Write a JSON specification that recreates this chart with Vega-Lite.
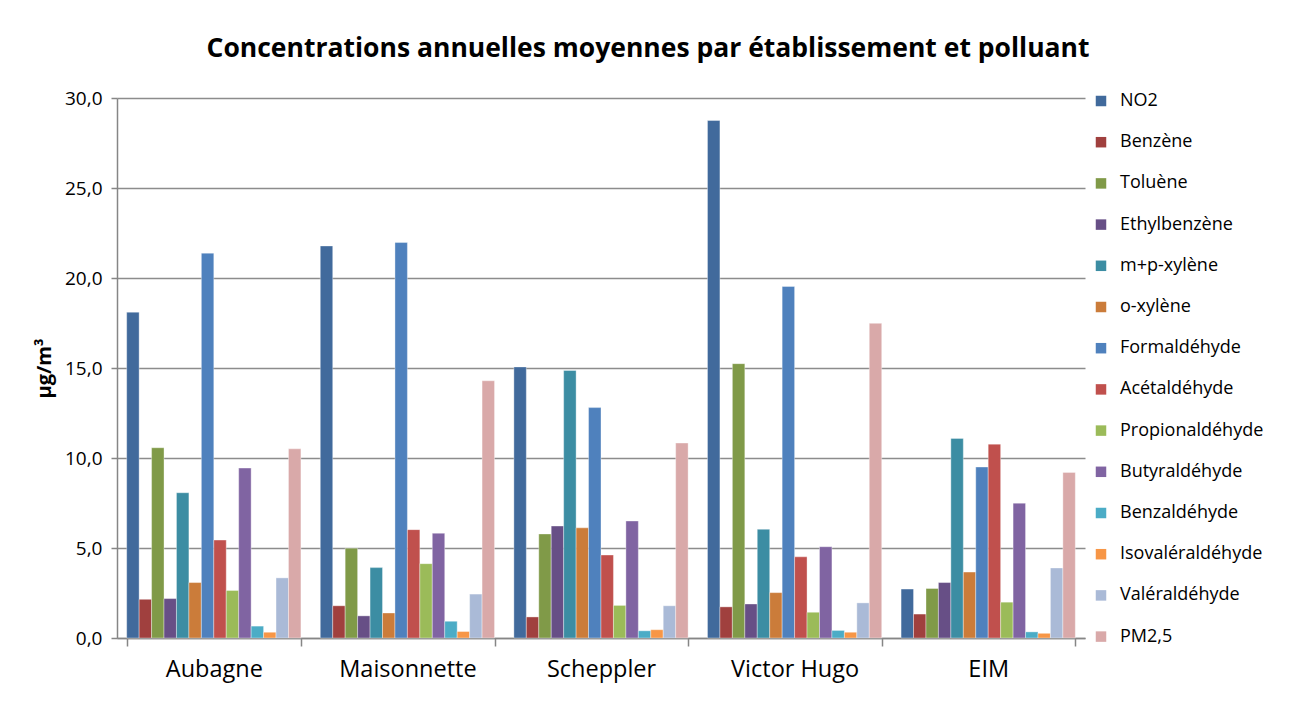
{
  "$schema": "https://vega.github.io/schema/vega-lite/v6.json",
  "width": 968,
  "height": 540,
  "autosize": {"type": "none"},
  "padding": {"left": 117, "top": 98, "right": 208, "bottom": 64},
  "background": "white",
  "title": {
    "text": "Concentrations annuelles moyennes par établissement et polluant",
    "font": "Open Sans",
    "fontSize": 26.5,
    "fontWeight": "bold",
    "color": "#000000",
    "anchor": "middle",
    "dx": 47,
    "offset": 27
  },
  "data": {
    "values": [
      {"site": "Aubagne", "polluant": "NO2", "valeur": 18.1},
      {"site": "Aubagne", "polluant": "Benzène", "valeur": 2.15},
      {"site": "Aubagne", "polluant": "Toluène", "valeur": 10.57},
      {"site": "Aubagne", "polluant": "Ethylbenzène", "valeur": 2.19},
      {"site": "Aubagne", "polluant": "m+p-xylène", "valeur": 8.07},
      {"site": "Aubagne", "polluant": "o-xylène", "valeur": 3.08},
      {"site": "Aubagne", "polluant": "Formaldéhyde", "valeur": 21.38},
      {"site": "Aubagne", "polluant": "Acétaldéhyde", "valeur": 5.44},
      {"site": "Aubagne", "polluant": "Propionaldéhyde", "valeur": 2.64},
      {"site": "Aubagne", "polluant": "Butyraldéhyde", "valeur": 9.44},
      {"site": "Aubagne", "polluant": "Benzaldéhyde", "valeur": 0.66},
      {"site": "Aubagne", "polluant": "Isovaléraldéhyde", "valeur": 0.32},
      {"site": "Aubagne", "polluant": "Valéraldéhyde", "valeur": 3.34},
      {"site": "Aubagne", "polluant": "PM2,5", "valeur": 10.51},
      {"site": "Maisonnette", "polluant": "NO2", "valeur": 21.78},
      {"site": "Maisonnette", "polluant": "Benzène", "valeur": 1.79},
      {"site": "Maisonnette", "polluant": "Toluène", "valeur": 4.99},
      {"site": "Maisonnette", "polluant": "Ethylbenzène", "valeur": 1.23},
      {"site": "Maisonnette", "polluant": "m+p-xylène", "valeur": 3.91},
      {"site": "Maisonnette", "polluant": "o-xylène", "valeur": 1.39},
      {"site": "Maisonnette", "polluant": "Formaldéhyde", "valeur": 21.97},
      {"site": "Maisonnette", "polluant": "Acétaldéhyde", "valeur": 6.02},
      {"site": "Maisonnette", "polluant": "Propionaldéhyde", "valeur": 4.13},
      {"site": "Maisonnette", "polluant": "Butyraldéhyde", "valeur": 5.82},
      {"site": "Maisonnette", "polluant": "Benzaldéhyde", "valeur": 0.93},
      {"site": "Maisonnette", "polluant": "Isovaléraldéhyde", "valeur": 0.36},
      {"site": "Maisonnette", "polluant": "Valéraldéhyde", "valeur": 2.44},
      {"site": "Maisonnette", "polluant": "PM2,5", "valeur": 14.29},
      {"site": "Scheppler", "polluant": "NO2", "valeur": 15.06},
      {"site": "Scheppler", "polluant": "Benzène", "valeur": 1.17},
      {"site": "Scheppler", "polluant": "Toluène", "valeur": 5.78},
      {"site": "Scheppler", "polluant": "Ethylbenzène", "valeur": 6.22},
      {"site": "Scheppler", "polluant": "m+p-xylène", "valeur": 14.86},
      {"site": "Scheppler", "polluant": "o-xylène", "valeur": 6.12},
      {"site": "Scheppler", "polluant": "Formaldéhyde", "valeur": 12.8},
      {"site": "Scheppler", "polluant": "Acétaldéhyde", "valeur": 4.61},
      {"site": "Scheppler", "polluant": "Propionaldéhyde", "valeur": 1.81},
      {"site": "Scheppler", "polluant": "Butyraldéhyde", "valeur": 6.5},
      {"site": "Scheppler", "polluant": "Benzaldéhyde", "valeur": 0.4},
      {"site": "Scheppler", "polluant": "Isovaléraldéhyde", "valeur": 0.46},
      {"site": "Scheppler", "polluant": "Valéraldéhyde", "valeur": 1.79},
      {"site": "Scheppler", "polluant": "PM2,5", "valeur": 10.83},
      {"site": "Victor Hugo", "polluant": "NO2", "valeur": 28.75},
      {"site": "Victor Hugo", "polluant": "Benzène", "valeur": 1.73},
      {"site": "Victor Hugo", "polluant": "Toluène", "valeur": 15.24},
      {"site": "Victor Hugo", "polluant": "Ethylbenzène", "valeur": 1.89},
      {"site": "Victor Hugo", "polluant": "m+p-xylène", "valeur": 6.04},
      {"site": "Victor Hugo", "polluant": "o-xylène", "valeur": 2.52},
      {"site": "Victor Hugo", "polluant": "Formaldéhyde", "valeur": 19.53},
      {"site": "Victor Hugo", "polluant": "Acétaldéhyde", "valeur": 4.51},
      {"site": "Victor Hugo", "polluant": "Propionaldéhyde", "valeur": 1.43},
      {"site": "Victor Hugo", "polluant": "Butyraldéhyde", "valeur": 5.07},
      {"site": "Victor Hugo", "polluant": "Benzaldéhyde", "valeur": 0.42},
      {"site": "Victor Hugo", "polluant": "Isovaléraldéhyde", "valeur": 0.32},
      {"site": "Victor Hugo", "polluant": "Valéraldéhyde", "valeur": 1.95},
      {"site": "Victor Hugo", "polluant": "PM2,5", "valeur": 17.48},
      {"site": "EIM", "polluant": "NO2", "valeur": 2.72},
      {"site": "EIM", "polluant": "Benzène", "valeur": 1.33},
      {"site": "EIM", "polluant": "Toluène", "valeur": 2.75},
      {"site": "EIM", "polluant": "Ethylbenzène", "valeur": 3.08},
      {"site": "EIM", "polluant": "m+p-xylène", "valeur": 11.09},
      {"site": "EIM", "polluant": "o-xylène", "valeur": 3.66},
      {"site": "EIM", "polluant": "Formaldéhyde", "valeur": 9.5},
      {"site": "EIM", "polluant": "Acétaldéhyde", "valeur": 10.77},
      {"site": "EIM", "polluant": "Propionaldéhyde", "valeur": 1.99},
      {"site": "EIM", "polluant": "Butyraldéhyde", "valeur": 7.49},
      {"site": "EIM", "polluant": "Benzaldéhyde", "valeur": 0.34},
      {"site": "EIM", "polluant": "Isovaléraldéhyde", "valeur": 0.26},
      {"site": "EIM", "polluant": "Valéraldéhyde", "valeur": 3.89},
      {"site": "EIM", "polluant": "PM2,5", "valeur": 9.2}
    ]
  },
  "mark": {"type": "bar", "stroke": "white", "strokeWidth": 0.6, "strokeOpacity": 0.6},
  "encoding": {
    "x": {
      "field": "site",
      "type": "nominal",
      "sort": ["Aubagne", "Maisonnette", "Scheppler", "Victor Hugo", "EIM"],
      "scale": {"paddingInner": 0.1, "paddingOuter": 0.05},
      "axis": {
        "title": null,
        "labelAngle": 0,
        "labelFont": "Open Sans",
        "labelFontSize": 23.5,
        "labelColor": "#000000",
        "labelPadding": 11,
        "tickBand": "extent",
        "tickSize": 8,
        "tickColor": "#868686",
        "domainColor": "#868686",
        "domainWidth": 1.5,
        "tickWidth": 1.5,
        "grid": false
      }
    },
    "xOffset": {
      "field": "polluant",
      "type": "nominal",
      "sort": ["NO2", "Benzène", "Toluène", "Ethylbenzène", "m+p-xylène", "o-xylène", "Formaldéhyde", "Acétaldéhyde", "Propionaldéhyde", "Butyraldéhyde", "Benzaldéhyde", "Isovaléraldéhyde", "Valéraldéhyde", "PM2,5"],
      "scale": {"paddingInner": 0, "paddingOuter": 0}
    },
    "y": {
      "field": "valeur",
      "type": "quantitative",
      "scale": {"domain": [0, 30], "nice": false},
      "axis": {
        "title": "µg/m³",
        "titleFont": "Open Sans",
        "titleFontSize": 20,
        "titleFontWeight": "bold",
        "titleColor": "#000000",
        "titlePadding": 10,
        "values": [0, 5, 10, 15, 20, 25, 30],
        "labelExpr": "replace(format(datum.value, '.1f'), '.', ',')",
        "labelFont": "Open Sans",
        "labelFontSize": 19,
        "labelColor": "#000000",
        "labelPadding": 9,
        "tickSize": 6,
        "tickColor": "#868686",
        "tickWidth": 1.5,
        "domainColor": "#868686",
        "domainWidth": 1.5,
        "grid": true,
        "gridColor": "#8c8c8c",
        "gridWidth": 1.3
      }
    },
    "color": {
      "field": "polluant",
      "type": "nominal",
      "scale": {
        "domain": ["NO2", "Benzène", "Toluène", "Ethylbenzène", "m+p-xylène", "o-xylène", "Formaldéhyde", "Acétaldéhyde", "Propionaldéhyde", "Butyraldéhyde", "Benzaldéhyde", "Isovaléraldéhyde", "Valéraldéhyde", "PM2,5"],
        "range": ["#416A9C", "#A0403E", "#809A48", "#674F86", "#3C8DA3", "#CB7C3A", "#4F81BD", "#C0504D", "#9BBB59", "#8064A2", "#4BACC6", "#F79646", "#AABAD7", "#D9A9A9"]
      },
      "legend": {
        "title": null,
        "orient": "none",
        "legendX": 975,
        "legendY": -6,
        "symbolType": "square",
        "symbolSize": 110,
        "symbolStrokeWidth": 0,
        "labelFont": "Open Sans",
        "labelFontSize": 18,
        "labelColor": "#000000",
        "labelOffset": 10,
        "rowPadding": 23.2,
        "labelLimit": 250
      }
    }
  },
  "config": {
    "view": {"stroke": null}
  }
}
